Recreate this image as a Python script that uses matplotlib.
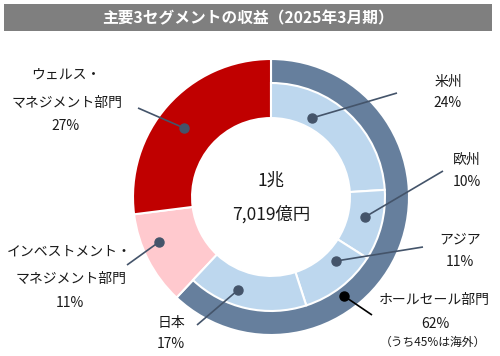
import matplotlib
matplotlib.use("Agg")
import matplotlib.pyplot as plt
from matplotlib.patches import Rectangle

plt.rcParams['font.family'] = ['Noto Sans CJK JP', 'DejaVu Sans']

# ---- data ----
title = "主要3セグメントの収益（2025年3月期）"
segments = ["ホールセール部門", "インベストメント・マネジメント部門", "ウェルス・マネジメント部門"]
segment_share = [62, 11, 27]
regions = ["米州", "欧州", "アジア", "日本"]
region_share = [24, 10, 11, 17]
total_line1 = "1兆"
total_line2 = "7,019億円"
overseas_note = "（うち45%は海外）"

# ---- colours ----
c_whole = "#667F9D"
c_inv = "#FFC9CE"
c_wealth = "#C00000"
c_region = "#BDD7EE"
c_leader = "#44546A"

W, H = 500, 356
fig = plt.figure(figsize=(W / 100, H / 100), dpi=100)

# pie axes: centre (271,197) px, radius 138 px
cx, cy, R = 271, 197, 138
pax = fig.add_axes([(cx - R) / W, (H - cy - R) / H, 2 * R / W, 2 * R / H])
pax.set_xlim(-1, 1)
pax.set_ylim(-1, 1)
pax.axis("off")

r_mid = 0.826
r_hole = 0.572

w1, _ = pax.pie(segment_share, radius=1.0, startangle=90, counterclock=False,
                colors=[c_whole, c_inv, c_wealth],
                wedgeprops=dict(width=1.0 - r_hole, edgecolor="white", linewidth=1.5))
rest = sum(segment_share) - sum(region_share)
w2, _ = pax.pie(region_share + [rest], radius=r_mid, startangle=90, counterclock=False,
                colors=[c_region] * len(region_share) + ["none"],
                wedgeprops=dict(width=r_mid - r_hole, edgecolor="white", linewidth=1.5))
w2[-1].set_edgecolor("none")
w2[-1].set_facecolor("none")
pax.set_xlim(-1, 1)
pax.set_ylim(-1, 1)

# overlay axes in pixel coordinates
ax = fig.add_axes([0, 0, 1, 1])
ax.set_xlim(0, W)
ax.set_ylim(H, 0)
ax.axis("off")
ax.patch.set_alpha(0)

# title bar
ax.add_patch(Rectangle((4, 4), 488, 27, facecolor="#7F7F7F", edgecolor="none"))
ax.text(248, 18, title, color="white", fontsize=11.3, fontweight="bold",
        ha="center", va="center")

# centre text
ax.text(271, 181, total_line1, fontsize=12.5, ha="center", va="center", color="#1a1a1a")
ax.text(271, 214, total_line2, fontsize=12.5, ha="center", va="center", color="#1a1a1a")

# leader lines: (label end, dot)
leaders = [
    ((138, 108), (184, 128), c_leader),   # wealth
    ((127, 265), (159, 242), c_leader),   # investment
    ((397, 93), (312, 118), c_leader),    # americas
    ((443, 171), (365, 217), c_leader),   # europe
    ((423, 247), (336, 261), c_leader),   # asia
    ((197, 325), (238, 290), c_leader),   # japan
    ((372, 315), (344, 296), "black"),    # wholesale
]
for (x0, y0), (x1, y1), col in leaders:
    ax.plot([x0, x1], [y0, y1], color=col, lw=1.2, solid_capstyle="butt")
    ax.plot([x1], [y1], "o", color=col, ms=6.5)

fs = 10
txt = "#1a1a1a"
# wealth
ax.text(66, 75, "ウェルス・", fontsize=fs, ha="center", va="center", color=txt)
ax.text(67, 103, "マネジメント部門", fontsize=fs, ha="center", va="center", color=txt)
ax.text(66, 126, f"{segment_share[2]}%", fontsize=fs, ha="center", va="center", color=txt)
# investment
ax.text(69, 252, "インベストメント・", fontsize=fs, ha="center", va="center", color=txt)
ax.text(71, 279, "マネジメント部門", fontsize=fs, ha="center", va="center", color=txt)
ax.text(70, 303, f"{segment_share[1]}%", fontsize=fs, ha="center", va="center", color=txt)
# regions
reg_pos = [(448, 82, 103), (467, 160, 182), (460, 240, 262), (171, 323, 344)]
for name, share, (x, y1, y2) in zip(regions, region_share, reg_pos):
    ax.text(x, y1, name, fontsize=fs, ha="center", va="center", color=txt)
    ax.text(x, y2, f"{share}%", fontsize=fs, ha="center", va="center", color=txt)
# wholesale
ax.text(434, 300, segments[0], fontsize=fs, ha="center", va="center", color=txt)
ax.text(435, 324, f"{segment_share[0]}%", fontsize=fs, ha="center", va="center", color=txt)
ax.text(433, 342, overseas_note, fontsize=8.5, ha="center", va="center", color=txt)

fig.savefig("out.png", dpi=100)
